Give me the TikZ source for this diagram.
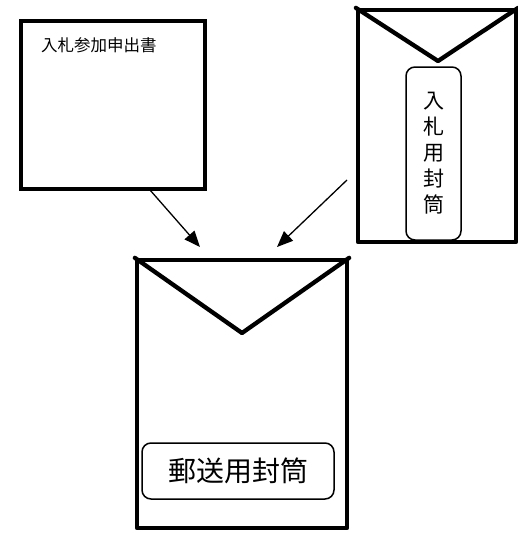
\documentclass[tikz,border=0pt]{standalone}
\usepackage{fontspec}
\setmainfont{Noto Sans CJK JP}
\usetikzlibrary{positioning}
\usetikzlibrary{arrows.meta}
\tikzstyle{sheet}=[draw,line width=3.8pt,inner sep=0pt]
\tikzstyle{envelope}=[draw,line width=4.3pt,inner sep=0pt,line join=round]
\tikzstyle{flap}=[draw,line width=4.3pt,line join=round,line cap=round]
\tikzstyle{tag}=[draw,line width=1.5pt,rounded corners=9pt,inner sep=0pt]
\tikzstyle{edge} = [draw,line width=1.3pt,-{Triangle[length=16pt,width=13pt]}]

\begin{document}
\begin{tikzpicture}[x=1pt,y=-1pt]
    \useasboundingbox (0,0) rectangle (518,533);
    % the application form
    \node[sheet,minimum width=184pt,minimum height=168pt] (form) at (113,105) {};
    \node[anchor=west,inner sep=0pt,font=\fontsize{16.5pt}{19pt}\selectfont] (formtitle) at (41,45) {入札参加申出書};

    % the two envelopes
    \node[envelope,minimum width=158pt,minimum height=232pt] (bid) at (437,126) {};
    \node[envelope,minimum width=210pt,minimum height=268pt] (post) at (242,394) {};
    \coordinate (bidflap) at (438,61);
    \coordinate (postflap) at (242,333);
    \foreach \env in {bid,post}
        \path[flap] (\env.north west) -- (\env flap) -- (\env.north east);

    % labels on the envelopes
    \node[tag,minimum width=55pt,minimum height=173pt,align=center,
          font=\fontsize{21pt}{26pt}\selectfont] (bidtag) at (433.5,153.5) {入\\札\\用\\封\\筒};
    \node[tag,minimum width=192pt,minimum height=56pt,
          font=\fontsize{28pt}{32pt}\selectfont] (posttag) at (238,471) {郵送用封筒};

    % arrows into the post envelope
    \coordinate (fromform) at (150,190);
    \coordinate (frombid) at (347,180);
    \coordinate (toform) at (200,247);
    \coordinate (tobid) at (277,247);
    \foreach \source/\dest in {fromform/toform, frombid/tobid}
        \path[edge] (\source) -- (\dest);
\end{tikzpicture}
\end{document}
